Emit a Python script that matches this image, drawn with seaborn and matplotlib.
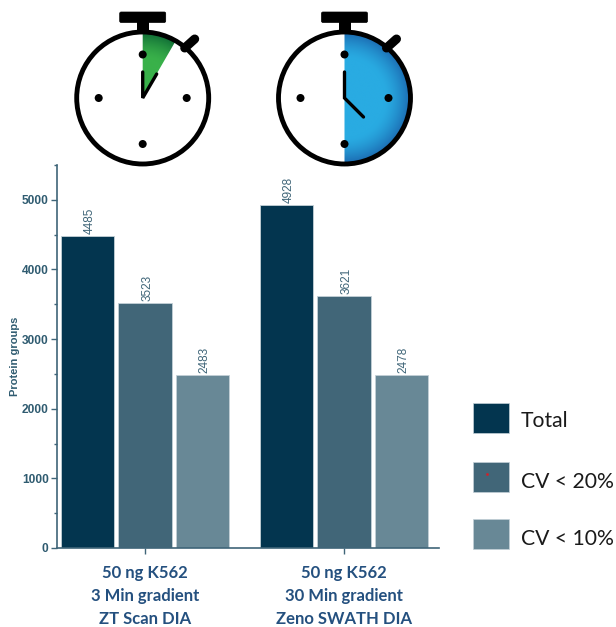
import matplotlib
matplotlib.use('Agg')
import matplotlib.pyplot as plt
from matplotlib.patches import Circle, Rectangle, FancyBboxPatch, Wedge
from matplotlib.ticker import MultipleLocator
import numpy as np
import pandas as pd
import seaborn as sns

# values
samples = ['50 ng K562\n3 Min gradient\nZT Scan DIA', '50 ng K562\n30 Min gradient\nZeno SWATH DIA']
series = ['Total', 'CV < 20%', 'CV < 10%']
total = [4485, 4928]
cv20 = [3523, 3621]
cv10 = [2483, 2478]
colors = ['#03354f', '#416678', '#688896']

W, H = 616, 627
AXIS = '#3f6578'

df = pd.DataFrame({'sample': samples * 3,
                   'series': np.repeat(series, 2),
                   'groups': total + cv20 + cv10})

sns.set_style('white')
plt.rcParams['font.family'] = ['Liberation Sans', 'DejaVu Sans']

fig = plt.figure(figsize=(W / 100, H / 100), dpi=100)
ax = fig.add_axes([57 / W, 1 - 548 / H, (439 - 57) / W, (548 - 165) / H])

sns.barplot(data=df, x='sample', y='groups', hue='series', hue_order=series,
            palette=colors, saturation=1, width=0.865, gap=0.07, legend=False,
            edgecolor='#c3d0d7', linewidth=0.6, ax=ax)

for c in ax.containers:
    for lbl in ax.bar_label(c, rotation=90, fontsize=8.5, color=AXIS, padding=1.5):
        lbl.xyann = (1.5, lbl.xyann[1])

ax.set_xlim(-0.442, 1.477)
ax.set_ylim(0, 5500)
ax.yaxis.set_major_locator(MultipleLocator(1000))
ax.yaxis.set_minor_locator(MultipleLocator(500))
sns.despine(ax=ax)
for s in ['left', 'bottom']:
    ax.spines[s].set_color(AXIS)
    ax.spines[s].set_linewidth(1.2)
ax.tick_params(axis='y', which='major', left=True, length=4, width=1, color=AXIS, pad=2)
ax.tick_params(axis='y', which='minor', left=True, length=2, width=1, color=AXIS)
ax.tick_params(axis='x', bottom=True, length=4, width=1, color=AXIS, pad=8.5)
for t in ax.get_yticklabels():
    t.set_fontsize(8.6)
    t.set_fontweight('bold')
    t.set_color('#2f5b70')
for t in ax.get_xticklabels():
    t.set_family(['Lato', 'DejaVu Sans'])
    t.set_fontsize(12)
    t.set_fontweight('bold')
    t.set_color('#24507f')
    t.set_linespacing(1.52)
ax.set_xlabel('')
ax.set_ylabel('Protein groups', fontsize=8, fontweight='bold', color='#2f5b70')
ax.yaxis.set_label_coords((20 - 57) / (439 - 57), 0.5)

# overlay in picture pixels for the stopwatches and the legend
ov = fig.add_axes([0, 0, 1, 1], zorder=5)
ov.set_xlim(0, W)
ov.set_ylim(H, 0)
ov.axis('off')
ov.patch.set_alpha(0)


def gradient(ax_, cx, cy, r, inner, outer, clip):
    yy, xx = np.mgrid[cy - r:cy + r:200j, cx - r:cx + r:200j]
    d = np.clip(np.hypot(xx - cx, yy - cy) / r, 0, 1)
    t = np.clip((d - 0.6) / 0.4, 0, 1)[..., None] ** 1.5
    inner = np.array(matplotlib.colors.to_rgb(inner))
    outer = np.array(matplotlib.colors.to_rgb(outer))
    im = ax_.imshow(inner * (1 - t) + outer * t, extent=[cx - r, cx + r, cy + r, cy - r],
                    zorder=2, aspect='auto')
    clip.set_transform(ax_.transData)
    im.set_clip_path(clip)


def stopwatch(ax_, cx, cy, theta2, inner, outer, hand):
    R = 66
    ax_.add_patch(Circle((cx, cy), R, fc='white', ec='none', zorder=1))
    # y axis is flipped so the wedge angles run clockwise from the right
    wedge = Wedge((cx, cy), R, -90, -90 + theta2, fc='none', ec='none')
    gradient(ax_, cx, cy, R, inner, outer, wedge)
    ax_.add_patch(Circle((cx, cy), R, fc='none', ec='black', lw=3.5, zorder=3))
    ax_.add_patch(FancyBboxPatch((cx - 23, 12), 46, 10.5, boxstyle='round,pad=0,rounding_size=1.5',
                                 fc='black', ec='black', lw=0.5, zorder=3))
    ax_.add_patch(Rectangle((cx - 6, 22), 12, 10, fc='black', ec='none', zorder=3))
    ax_.plot([cx + 42, cx + 52], [cy - 50, cy - 59], color='black', lw=6.5,
             solid_capstyle='round', zorder=2.5)
    for dx, dy in [(0, -43.5), (44, 0), (0, 46), (-44, 0)]:
        ax_.add_patch(Circle((cx + dx, cy + dy), 4, fc='black', ec='none', zorder=4))
    ax_.plot([cx, cx, cx + hand[0]], [cy - 26, cy, cy + hand[1]], color='black', lw=2.4,
             solid_capstyle='round', solid_joinstyle='miter', zorder=4)


stopwatch(ov, 142.7, 98, 30, '#39b14a', '#0e6a35', (14, -24))
stopwatch(ov, 344.5, 98, 180, '#29abe2', '#1b69b0', (19, 19))
ov.set_xlim(0, W)
ov.set_ylim(H, 0)

# hand made legend
legend_y = [403, 462, 519]
legend_text_y = [421, 482, 539]
for name, col, y, ty in zip(series, colors, legend_y, legend_text_y):
    ov.add_patch(Rectangle((473, y), 36, 29.5, fc=col, ec='#c3d0d7', lw=0.5))
    ov.text(521, ty, name, fontsize=15.2, family=['Lato', 'DejaVu Sans'],
            color='#1a1a1a', va='center', ha='left')
ov.plot([487], [474], marker='o', ms=2, color='#d0202a', mew=0)

fig.savefig('out.png', dpi=100)
